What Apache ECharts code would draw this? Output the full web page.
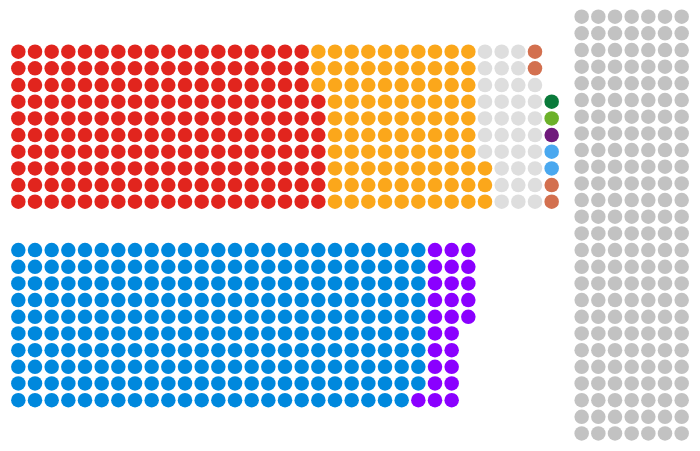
<!DOCTYPE html>
<html>
<head>
<meta charset="utf-8">
<script src="https://cdn.jsdelivr.net/npm/echarts@6/dist/echarts.min.js"></script>
<style>
  html, body { margin: 0; padding: 0; background: #ffffff; }
  #chart { width: 700px; height: 451px; }
</style>
</head>
<body>
<div id="chart"></div>
<script>
// Opposition benches (upper block), filled column by column from the bottom up
const topParties = ['Labour', 'Liberal Democrat', 'Non-affiliated', 'DUP', 'UUP', 'UKIP', 'Green', 'Plaid Cymru'];
const topSeats = [187, 96, 35, 4, 2, 1, 1, 1];
const topColors = ['#e1251e', '#fba71b', '#dedede', '#d3704f', '#4aa8ef', '#701a7c', '#6cb12a', '#0a7a3a'];

// Government benches (lower block), filled column by column from the top down
const bottomParties = ['Conservative', 'Lords Spiritual'];
const bottomSeats = [249, 26];
const bottomColors = ['#0088dd', '#8a00ff'];

// Cross benches (right block)
const crossParties = ['Crossbench'];
const crossSeats = [182];
const crossColors = ['#c2c2c2'];

const ROWS = 10;
const CROSS_COLS = 7;
const TOP_ROW0 = 0, BOTTOM_ROW0 = 11.9, CROSS_ROW0 = -2.1, CROSS_COL0 = 33.8;

function buildBlock(parties, seats, colors, placer) {
  const out = [];
  let i = 0;
  parties.forEach((name, p) => {
    const pts = [];
    for (let k = 0; k < seats[p]; k++, i++) pts.push(placer(i));
    out.push({ name, color: colors[p], data: pts });
  });
  return out;
}

const groups = [].concat(
  buildBlock(topParties, topSeats, topColors, i => [Math.floor(i / ROWS), TOP_ROW0 + (ROWS - 1 - (i % ROWS))]),
  buildBlock(bottomParties, bottomSeats, bottomColors, i => [Math.floor(i / ROWS), BOTTOM_ROW0 + (i % ROWS)]),
  buildBlock(crossParties, crossSeats, crossColors, i => [CROSS_COL0 + (i % CROSS_COLS), CROSS_ROW0 + Math.floor(i / CROSS_COLS)])
);

const chart = echarts.init(document.getElementById('chart'), null, { renderer: 'canvas' });
chart.setOption({
  animation: false,
  backgroundColor: '#ffffff',
  grid: { left: 0, right: 0, top: 0, bottom: 0, containLabel: false },
  xAxis: { type: 'value', min: -1.1, max: 40.9, show: false },
  yAxis: { type: 'value', min: -3.1, max: 23.95, inverse: true, show: false },
  tooltip: { show: false },
  series: groups.map(g => ({
    type: 'scatter',
    name: g.name,
    symbol: 'circle',
    symbolSize: 14.5,
    itemStyle: { color: g.color, opacity: 1 },
    data: g.data,
    silent: true
  }))
});
</script>
</body>
</html>
